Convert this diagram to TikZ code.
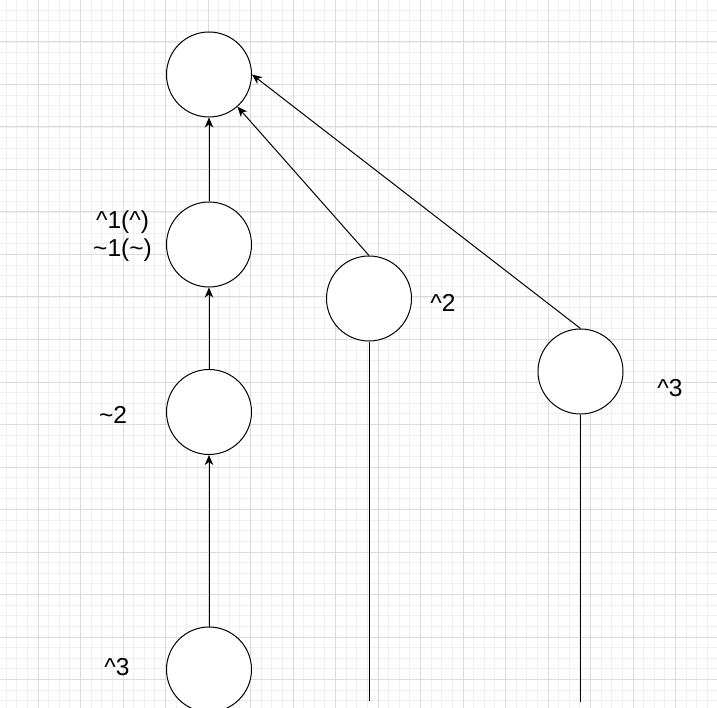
\documentclass[tikz,border=0pt]{standalone}
\usepackage{fontspec}
\setmainfont{Liberation Sans}
\usetikzlibrary{positioning, arrows.meta}

\begin{document}
\begin{tikzpicture}[
    x=1pt, y=-1pt,
    state/.style={circle, draw, fill=white, minimum size=85pt, inner sep=0pt, line width=1pt},
    link/.style={-{Stealth[length=10pt, width=8.5pt, inset=3pt]}, line width=1pt},
    tail/.style={line width=1pt},
    lbl/.style={font=\fontsize{24.5}{28}\selectfont, align=center, inner sep=0pt}
]

\useasboundingbox (0,0) rectangle (717,708);

% Raster
\foreach \i in {0,...,68}
    \draw[black!6, line width=0.8pt] (-4.5+10.625*\i, 0) -- (-4.5+10.625*\i, 708);
\foreach \i in {0,...,67}
    \draw[black!6, line width=0.8pt] (0, -0.5+10.625*\i) -- (717, -0.5+10.625*\i);
\foreach \k in {0,...,17}
    \draw[black!14, line width=1pt] (-4.5+42.5*\k, 0) -- (-4.5+42.5*\k, 708);
\foreach \k in {0,...,17}
    \draw[black!14, line width=1pt] (0, -0.5+42.5*\k) -- (717, -0.5+42.5*\k);

% Knoten
\node[state] (top) at (209, 74.5) {};
\node[state] (a1) at (209, 244.5) {};
\node[state] (a2) at (209, 412) {};
\node[state] (a3) at (209, 669.5) {};
\node[state] (b) at (369, 298.5) {};
\node[state] (c) at (580.5, 371.5) {};

\coordinate (bend) at (369, 701);
\coordinate (cend) at (580.5, 702);

% Beschriftungen
\node[lbl] (la1) at (122.5, 236) {\textasciicircum1(\textasciicircum)\\\textasciitilde1(\textasciitilde)};
\node[lbl] (la2) at (113, 415) {\textasciitilde2};
\node[lbl] (la3) at (117, 667) {\textasciicircum3};
\node[lbl] (lb) at (443, 303) {\textasciicircum2};
\node[lbl] (lc) at (670, 388) {\textasciicircum3};

% Kanten
\draw[link] (a1) -- (top);
\draw[link] (a2) -- (a1);
\draw[link] (a3) -- (a2);
\draw[link] (b.north) -- (top);
\draw[link] (c.north) -- (top.east);

\draw[tail] (b) -- (bend);
\draw[tail] (c) -- (cend);

\end{tikzpicture}
\end{document}
